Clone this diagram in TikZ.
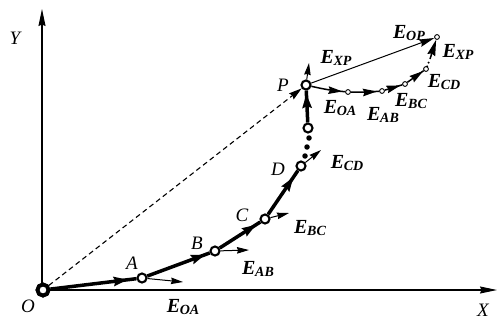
\documentclass[tikz,border=0pt]{standalone}
\usepackage{fontspec}
\setmainfont{Liberation Serif}
\usetikzlibrary{arrows.meta,decorations.markings}
\newcommand{\Elab}[1]{E\kern-0.3pt\raisebox{-2.2pt}{\fontsize{14}{14}\selectfont\bfseries\itshape #1}}
\begin{document}
\begin{tikzpicture}[x=1pt,y=-1pt,
  bigpt/.style={circle,draw,fill=white,line width=2.1pt,inner sep=0pt,minimum size=9pt},
  originpt/.style={circle,draw,fill=white,line width=3.8pt,inner sep=0pt,minimum size=11pt},
  smallpt/.style={circle,draw,fill=white,line width=0.9pt,inner sep=0pt,minimum size=4.8pt},
  dotpt/.style={circle,fill=black,inner sep=0pt,minimum size=5.5pt},
  chain/.style={line width=3.5pt},
  rcurve/.style={line width=1.5pt},
  thinarr/.style={line width=1pt,-{Stealth[length=12pt,width=6.5pt,inset=1pt]}},
  axisarr/.style={line width=1.1pt,-{Stealth[length=17pt,width=7pt,inset=1.5pt]}},
  bighead/.style={postaction={decorate},decoration={markings,mark=at position #1 with {\arrow{Stealth[length=14pt,width=9pt,inset=1.5pt]}}}},
  medhead/.style={postaction={decorate},decoration={markings,mark=at position #1 with {\arrow{Stealth[length=14pt,width=7.5pt,inset=1.5pt]}}}},
  ptlbl/.style={font=\fontsize{19}{19}\selectfont\itshape,inner sep=0pt},
  elbl/.style={font=\fontsize{20}{20}\selectfont\bfseries\itshape,inner sep=0pt}]
\useasboundingbox (0,0) rectangle (497,321);
% axes
\coordinate (Ytip) at (42,9);
\coordinate (Xtip) at (497,290);
\coordinate (Oax) at (42,290);
\draw[axisarr] (Oax) -- (Ytip);
\draw[axisarr] (Oax) -- (Xtip);
\node[ptlbl] (Ylab) at (15,38) {Y};
\node[ptlbl] (Xlab) at (483,310) {X};
% points
\node[originpt] (O) at (43,290) {};
\node[bigpt] (A) at (142,278) {};
\node[bigpt] (B) at (215,251) {};
\node[bigpt] (C) at (265,219) {};
\node[bigpt] (D) at (301,166) {};
\node[bigpt] (Q) at (308,128) {};
\node[bigpt] (P) at (306,85) {};
\node[dotpt] (d1x) at (305,156) {};
\node[dotpt] (d2x) at (307,147) {};
\node[dotpt] (d3x) at (309,138) {};
% dashed O-P
\draw[line width=1.1pt,dash pattern=on 5pt off 3.5pt,-{Stealth[length=13pt,width=7.5pt,inset=1.5pt]}] (O) -- (P);
% chain
\draw[chain,bighead=0.9] (O) -- (A);
\draw[chain,bighead=0.93] (A) -- (B);
\draw[chain,bighead=0.9] (B) -- (C);
\draw[chain,bighead=0.85] (C) -- (D);
\draw[chain,bighead=0.9] (Q) -- (P);
\node[originpt] at (O) {};
% thin arrows at points
\coordinate (tA) at (183,282);
\coordinate (tB) at (249,250);
\coordinate (tC) at (289,213);
\coordinate (tD) at (321,150);
\coordinate (tP) at (309,63);
\draw[thinarr] (A) -- (tA);
\draw[thinarr] (B) -- (tB);
\draw[thinarr] (C) -- (tC);
\draw[thinarr] (D) -- (tD);
\draw[thinarr] (P) -- (tP);
% right curve
\node[smallpt] (a1) at (348,92) {};
\node[smallpt] (b1) at (382,91) {};
\node[smallpt] (c1) at (405,84) {};
\node[smallpt] (e1) at (426,69) {};
\node[smallpt] (T) at (437,37) {};
\coordinate (base) at (430,59);
\draw[rcurve,medhead=0.92] (P) to[bend right=4] (a1);
\draw[rcurve,medhead=0.92] (a1) to[bend right=3] (b1);
\draw[rcurve,medhead=0.9] (b1) -- (c1);
\draw[rcurve,medhead=0.97] (c1) -- (e1);
\draw[line width=2.2pt,dash pattern=on 0pt off 4pt,line cap=round] (e1) -- (base);
\draw[line width=1.5pt,-{Stealth[length=16pt,width=8pt,inset=1.5pt]}] (base) -- (T);
\draw[line width=1pt,-{Stealth[length=15pt,width=7.5pt,inset=1.5pt]}] (P) -- (T);
% point labels
\node[ptlbl] (Olab) at (28,306) {O};
\node[ptlbl] (Alab) at (132,263) {A};
\node[ptlbl] (Blab) at (197,243) {B};
\node[ptlbl] (Clab) at (242,215) {C};
\node[ptlbl] (Dlab) at (278,169) {D};
\node[ptlbl] (Plab) at (283,85) {P};
% E labels
\node[elbl] (L1) at (183,307) {\Elab{OA}};
\node[elbl] (L2) at (258,269) {\Elab{AB}};
\node[elbl] (L3) at (310,228) {\Elab{BC}};
\node[elbl] (L4) at (347,163) {\Elab{CD}};
\node[elbl] (L5) at (336,58) {\Elab{XP}};
\node[elbl] (L6) at (340,108) {\Elab{OA}};
\node[elbl] (L7) at (383,115) {\Elab{AB}};
\node[elbl] (L8) at (411,101) {\Elab{BC}};
\node[elbl] (L9) at (444,82) {\Elab{CD}};
\node[elbl] (L10) at (458,52) {\Elab{XP}};
\node[elbl] (L11) at (409,33) {\Elab{OP}};
\end{tikzpicture}
\end{document}
